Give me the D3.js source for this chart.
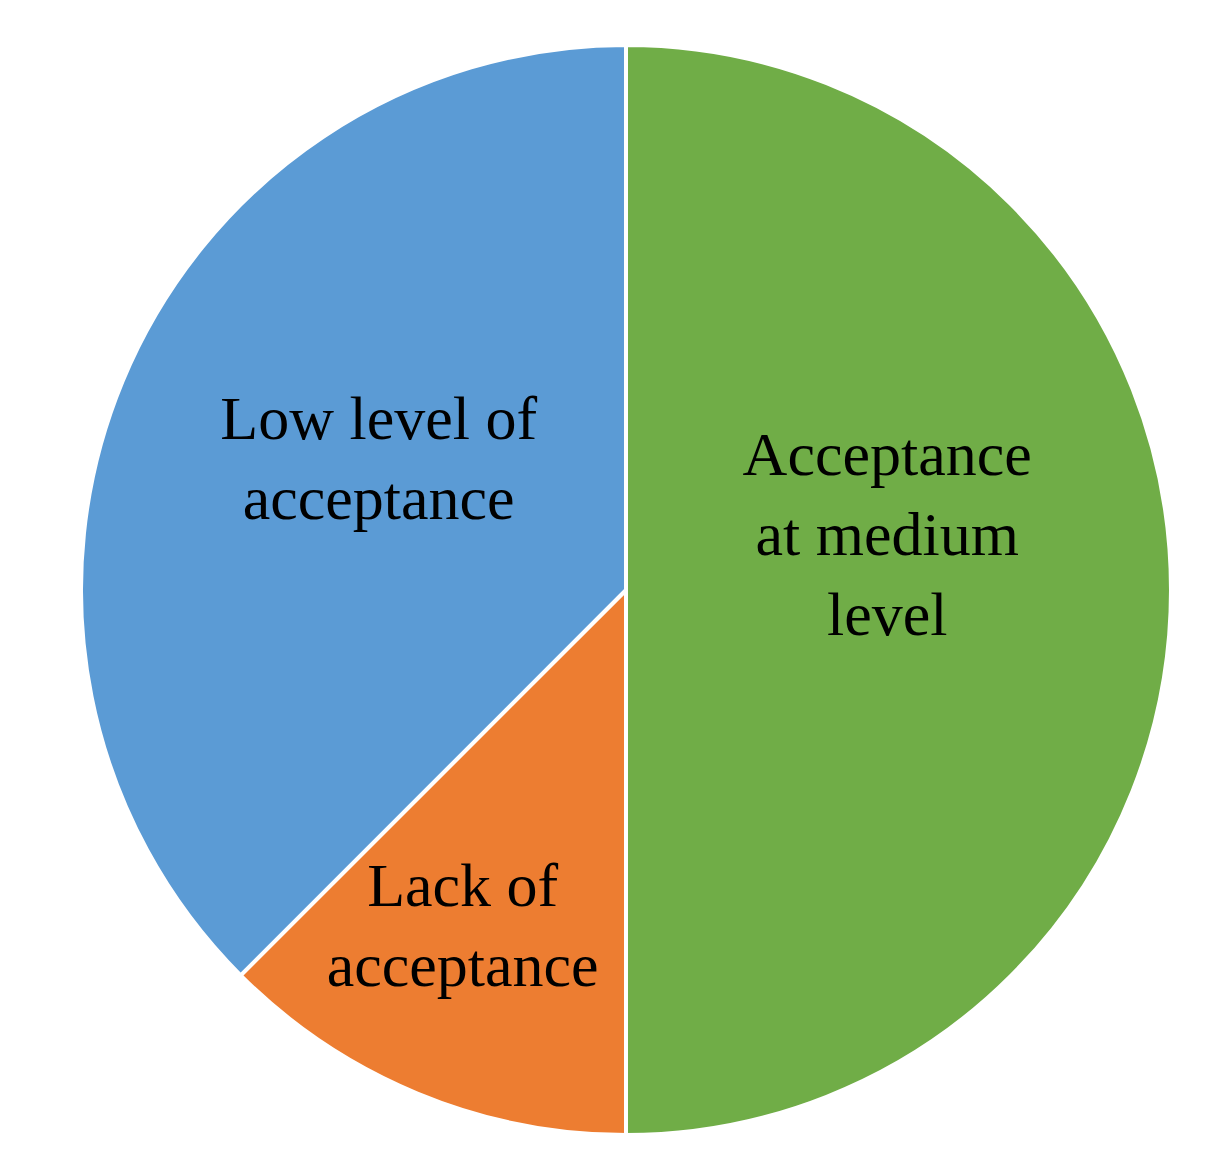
<!DOCTYPE html>
<html><head><meta charset="utf-8">
<script src="https://cdn.jsdelivr.net/npm/d3@7"></script>
<style>html,body{margin:0;padding:0;background:#fff;}</style>
</head><body>
<svg id="chart" width="1219" height="1168"></svg>
<script>
const categories = ["Acceptance at medium level", "Lack of acceptance", "Low level of acceptance"];
const values = [50, 12.5, 37.5];
const labelLines = [["Acceptance", "at medium", "level"], ["Lack of", "acceptance"], ["Low level of", "acceptance"]];
const colors = ["#70AD47", "#ED7D31", "#5B9BD5"];
// label placement: radius fraction and angle nudge (radians)
const labelRadius = [0.49, 0.685, 0.514];
const labelAngleNudge = [-0.21, 0.06, 0.096];

const svg = d3.select("#chart");
const cx = 626, cy = 590, R = 545;
const g = svg.append("g").attr("transform", `translate(${cx},${cy})`);

const pie = d3.pie().sort(null).value(d => d)(values);
const arc = d3.arc().innerRadius(0).outerRadius(R);

g.selectAll("path.slice").data(pie).enter().append("path")
  .attr("class", "slice")
  .attr("d", arc)
  .attr("fill", (d, i) => colors[i])
  .attr("stroke", "#fff")
  .attr("stroke-width", 4)
  .attr("stroke-linejoin", "round");

const fs = 62, lh = 80;
pie.forEach((d, i) => {
  const a = (d.startAngle + d.endAngle) / 2 + labelAngleNudge[i];
  const r = labelRadius[i] * R;
  const x = Math.sin(a) * r, y = -Math.cos(a) * r;
  const lines = labelLines[i];
  const t = g.append("text")
    .attr("text-anchor", "middle")
    .attr("font-family", "'Liberation Serif', 'Times New Roman', serif")
    .attr("font-size", fs)
    .attr("fill", "#000");
  lines.forEach((ln, k) => {
    t.append("tspan")
      .attr("x", x)
      .attr("y", y + (k - (lines.length - 1) / 2) * lh + fs * 0.33)
      .text(ln);
  });
});
</script>
</body></html>
